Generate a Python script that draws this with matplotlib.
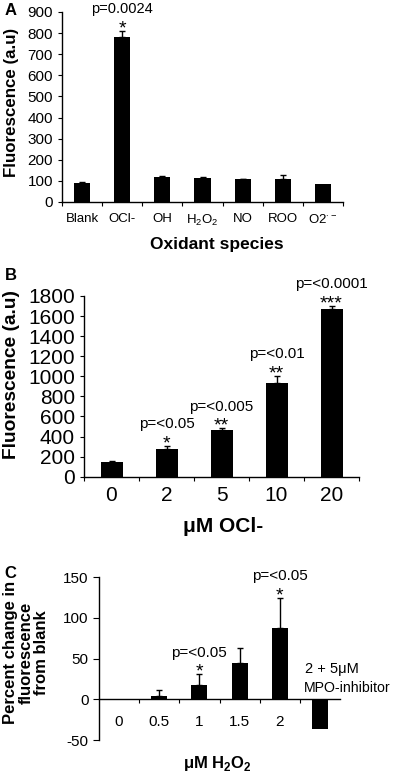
import numpy as np
import matplotlib
matplotlib.use("Agg")
import matplotlib.pyplot as plt

plt.rcParams['font.family'] = ['Liberation Sans', 'DejaVu Sans']
plt.rcParams['mathtext.fontset'] = 'custom'
plt.rcParams['mathtext.rm'] = 'Liberation Sans'
plt.rcParams['mathtext.bf'] = 'Liberation Sans:bold'
plt.rcParams['axes.linewidth'] = 1.0
plt.rcParams['axes.unicode_minus'] = False

# Panel A: oxidant species
a_labels = ["Blank", "OCl-", "OH", "H$_2$O$_2$", "NO", "ROO", r"O2$^{\cdot -}$"]
a_values = [92, 781, 119, 114, 109, 109, 87]
a_err = [4, 30, 3, 3, 1, 19, 0]
a_pvals = ["", "p=0.0024", "", "", "", "", ""]
a_stars = ["", "*", "", "", "", "", ""]
a_ticks = [0, 100, 200, 300, 400, 500, 600, 700, 800, 900]

# Panel B: OCl- dose
b_labels = ["0", "2", "5", "10", "20"]
b_values = [146, 276, 465, 933, 1670]
b_err = [6, 33, 17, 73, 34]
b_pvals = ["", "p=<0.05", "p=<0.005", "p=<0.01", "p=<0.0001"]
b_stars = ["", "*", "**", "**", "***"]
b_ticks = [0, 200, 400, 600, 800, 1000, 1200, 1400, 1600, 1800]

# Panel C: H2O2 dose
c_labels = ["0", "0.5", "1", "1.5", "2", ""]
c_values = [0, 4, 18, 45, 88, -37]
c_err = [0, 8, 13, 18, 37, 0]
c_pvals = ["", "", "p=<0.05", "", "p=<0.05", ""]
c_stars = ["", "", "*", "", "*", ""]
c_ticks = [-50, 0, 50, 100, 150]

fig = plt.figure(figsize=(4, 7.75), dpi=100)


def bars(ax, values, err, labels, fs_tick, pad):
    x = np.arange(len(values))
    ax.bar(x, values, width=0.4, color='black')
    err = np.array(err)
    vals = np.array(values)
    m = err > 0
    ax.errorbar(x[m], vals[m], yerr=[np.zeros(m.sum()), err[m]], fmt='none',
                ecolor='black', elinewidth=1, capsize=2.5, capthick=1)
    ax.set_xlim(-0.5, len(values) - 0.5)
    ax.set_xticks(np.arange(len(values) + 1) - 0.5)
    ax.set_xticklabels([])
    ax.set_xticks(x, labels, minor=True)
    ax.tick_params(axis='x', which='major', length=3, direction='out')
    ax.tick_params(axis='x', which='minor', length=0, pad=pad, labelsize=fs_tick)
    ax.spines['top'].set_visible(False)
    ax.spines['right'].set_visible(False)
    return x


def marks(ax, x, values, err, pvals, stars, fs):
    for xi, v, e, p, s in zip(x, values, err, pvals, stars):
        top = v + e
        if s:
            ax.annotate(s, (xi, top), xytext=(0, -1.8), textcoords='offset points',
                        ha='center', va='baseline', fontsize=14)
        if p:
            ax.annotate(p, (xi, top), xytext=(0, 15.5), textcoords='offset points',
                        ha='center', va='center', fontsize=fs, annotation_clip=False)


# ---- A ----
axA = fig.add_axes([0.155, 0.7394, 0.7025, 0.2452])
xA = bars(axA, a_values, a_err, a_labels, 9.5, 8)
axA.set_ylim(0, 900)
axA.set_yticks(a_ticks)
axA.tick_params(axis='y', length=3, labelsize=11)
marks(axA, xA, a_values, a_err, a_pvals, a_stars, 10.5)
axA.set_ylabel("Fluorescence (a.u)", fontsize=12.2, fontweight='bold', va='center')
axA.yaxis.set_label_coords(-0.178, 0.524)
axA.set_xlabel("Oxidant species", fontsize=12.5, fontweight='bold', va='center')
axA.xaxis.set_label_coords(0.55, -0.226)
fig.text(0.012, 0.986, "A", fontsize=12, fontweight='bold', va='center')

# ---- B ----
axB = fig.add_axes([0.21, 0.3849, 0.6875, 0.2332])
xB = bars(axB, b_values, b_err, b_labels, 15, 7)
axB.set_ylim(0, 1800)
axB.set_yticks(b_ticks)
axB.tick_params(axis='y', length=3, labelsize=15)
marks(axB, xB, b_values, b_err, b_pvals, b_stars, 11)
axB.set_ylabel("Fluorescence (a.u)", fontsize=13.8, fontweight='bold', va='center')
axB.yaxis.set_label_coords(-0.262, 0.563)
axB.set_xlabel("μM OCl-", fontsize=15, fontweight='bold', va='center')
axB.xaxis.set_label_coords(0.505, -0.278)
fig.text(0.012, 0.645, "B", fontsize=12, fontweight='bold', va='center')

# ---- C ----
axC = fig.add_axes([0.2475, 0.04516, 0.6025, 0.2099])
xC = bars(axC, c_values, c_err, c_labels, 11, 11)
axC.set_xticks(np.arange(1, len(c_values)) - 0.5)
axC.set_xticklabels([])
axC.spines['bottom'].set_position(('data', 0))
axC.set_ylim(-50, 150)
axC.set_yticks(c_ticks)
axC.tick_params(axis='y', length=4, labelsize=11)
marks(axC, xC, c_values, c_err, c_pvals, c_stars, 11)
axC.text(4.62, 37, "2 + 5μM", fontsize=10.5, ha='left', va='center')
axC.text(4.6, 13.5, "MPO-inhibitor", fontsize=10.2, ha='left', va='center', clip_on=False)
axC.set_ylabel("Percent change in\nfluorescence\nfrom blank", fontsize=12, fontweight='bold',
               va='center', linespacing=1.05)
axC.yaxis.set_label_coords(-0.303, 0.538)
axC.set_xlabel("μM H$_\\mathbf{2}$O$_\\mathbf{2}$", fontsize=12, fontweight='bold', va='center')
axC.xaxis.set_label_coords(0.49, -0.145)
fig.text(0.012, 0.2606, "C", fontsize=12, fontweight='bold', va='center')

fig.savefig("out.png", dpi=100)
